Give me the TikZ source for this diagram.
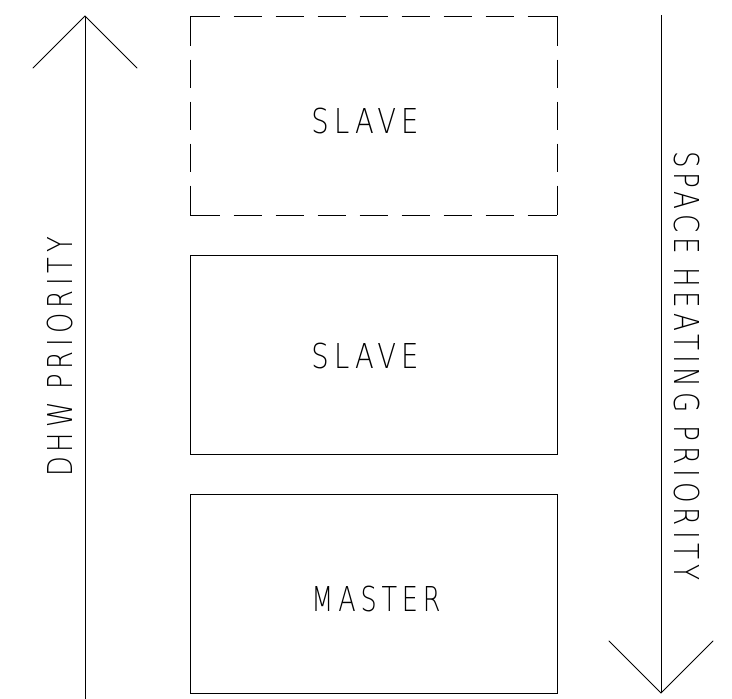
\documentclass[tikz,border=0pt]{standalone}
\usepackage{fontspec}
\newfontfamily\cadfont{DejaVu Sans ExtraLight}[FakeStretch=0.8, LetterSpace=15]
% narrow a label along its writing direction
\newcommand{\narrowby}[2]{\scalebox{#1}[1]{#2}}
\begin{document}
\begin{tikzpicture}[x=1pt, y=-1pt, line width=1pt,
  box/.style={minimum width=367pt, minimum height=199pt, inner sep=0pt, outer sep=0pt},
  lbl/.style={font=\cadfont\fontsize{34.3}{34.3}\selectfont, inner sep=0pt, anchor=base},
  hdash/.style={dash pattern=on 29.5pt off 14pt on 28pt off 14pt on 28pt off 14pt on 28pt off 14pt on 28pt off 14pt on 28pt off 14pt on 28pt off 14pt on 28pt off 14pt on 29.5pt off 14pt},
  vdash/.style={dash pattern=on 29.5pt off 14pt on 28pt off 14pt on 28pt off 14pt on 28pt off 14pt on 29.5pt off 14pt},
  tip/.style={line cap=round, line join=miter}]
\useasboundingbox (0,0) rectangle (732,699);

% the three units
\node[box] (slaveA) at (373.5,115.5) {};
\node[box, draw] (slaveB) at (373.5,355) {};
\node[box, draw] (master) at (373.5,593.5) {};

% dashed outline of the optional slave
\draw[hdash] (slaveA.north west) -- (slaveA.north east);
\draw[hdash] (slaveA.south west) -- (slaveA.south east);
\draw[vdash] (slaveA.north west) -- (slaveA.south west);
\draw[vdash] (slaveA.north east) -- (slaveA.south east);

\node[lbl] (tA) at (365,133) {SLAVE};
\node[lbl] (tB) at (365,368.5) {SLAVE};
\node[lbl] (tM) at (376,611) {\narrowby{0.93}{MASTER}};

% DHW priority arrow (upwards)
\coordinate (dhwTail) at (85,699);
\coordinate (dhwTip) at (85,16);
\coordinate (dhwL) at (33,68);
\coordinate (dhwR) at (137,68);
\draw (dhwTail) -- (dhwTip);
\draw[tip] (dhwL) -- (dhwTip) -- (dhwR);
\node[lbl, rotate=90] (tDHW) at (72,357) {\narrowby{0.94}{DHW PRIORITY}};

% space heating priority arrow (downwards)
\coordinate (shTail) at (661,15);
\coordinate (shTip) at (661,693);
\coordinate (shL) at (609,641);
\coordinate (shR) at (713,641);
\draw (shTail) -- (shTip);
\draw[tip] (shL) -- (shTip) -- (shR);
\node[lbl, rotate=-90] (tSH) at (674,366) {\narrowby{0.955}{SPACE HEATING PRIORITY}};
\end{tikzpicture}
\end{document}
